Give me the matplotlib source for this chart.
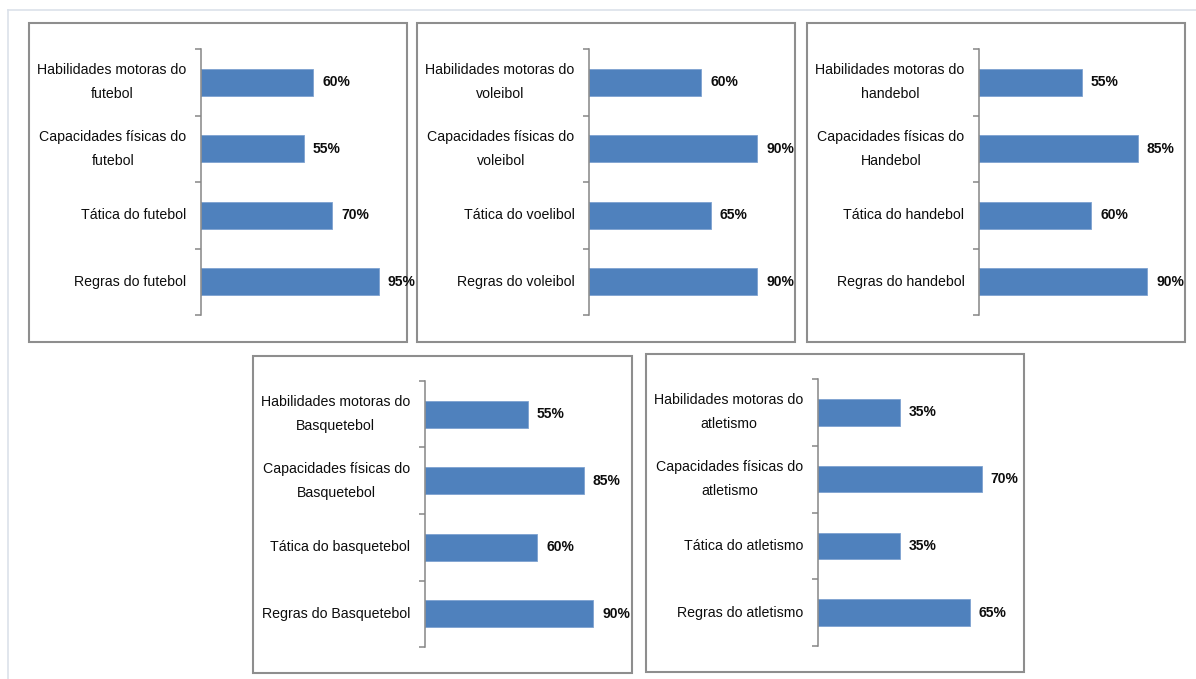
import matplotlib
matplotlib.use("Agg")
import matplotlib.pyplot as plt
from matplotlib.patches import Rectangle
from matplotlib.lines import Line2D

W, H = 1196, 679
FONT = ['Liberation Sans', 'DejaVu Sans']
BAR = '#4f81bd'

# categories per sport (top to bottom)
labels_futebol = ["Habilidades motoras do\nfutebol", "Capacidades físicas do\nfutebol",
                  "Tática do futebol", "Regras do futebol"]
values_futebol = [60, 55, 70, 95]

labels_voleibol = ["Habilidades motoras do\nvoleibol", "Capacidades físicas do\nvoleibol",
                   "Tática do voelibol", "Regras do voleibol"]
values_voleibol = [60, 90, 65, 90]

labels_handebol = ["Habilidades motoras do\nhandebol", "Capacidades físicas do\nHandebol",
                   "Tática do handebol", "Regras do handebol"]
values_handebol = [55, 85, 60, 90]

labels_basquete = ["Habilidades motoras do\nBasquetebol", "Capacidades físicas do\nBasquetebol",
                   "Tática do basquetebol", "Regras do Basquetebol"]
values_basquete = [55, 85, 60, 90]

labels_atletismo = ["Habilidades motoras do\natletismo", "Capacidades físicas do\natletismo",
                    "Tática do atletismo", "Regras do atletismo"]
values_atletismo = [35, 70, 35, 65]

xmax_default = 100
xmax_atletismo = 80


def fx(x):
    return x / W


def fy(y):
    return 1 - y / H


def panel(fig, box, axis, labels, values, xmax):
    # outer chart frame
    x0, y0, x1, y1 = box
    fig.add_artist(Rectangle((fx(x0), fy(y1)), fx(x1 - x0), (y1 - y0) / H,
                             transform=fig.transFigure, facecolor='white',
                             edgecolor='#8e8e8e', linewidth=1.5, zorder=0))
    left, top, bottom = axis
    ax = fig.add_axes([fx(left), fy(bottom), fx(187), (bottom - top) / H])
    ax.set_zorder(1)
    ax.patch.set_alpha(0)
    n = len(values)
    pos = list(range(n))
    ax.barh(pos, values, height=0.4, color=BAR, edgecolor='#7ea2d0', linewidth=0.6)
    ax.set_xlim(0, xmax)
    ax.set_ylim(n - 0.5, -0.5)
    for s in ['top', 'right', 'bottom']:
        ax.spines[s].set_visible(False)
    ax.spines['left'].set_color('#868686')
    ax.spines['left'].set_linewidth(1.1)
    ax.set_xticks([])
    # tick marks sit on the category boundaries, labels in between
    ax.set_yticks([i - 0.5 for i in range(n + 1)])
    ax.set_yticklabels([])
    ax.tick_params(axis='y', which='major', length=4, width=1.1, color='#868686')
    ax.set_yticks(pos, minor=True)
    ax.set_yticklabels(labels, minor=True)
    ax.tick_params(axis='y', which='minor', length=0, pad=10.5)
    for t in ax.get_yticklabels(minor=True):
        t.set_family(FONT)
        t.set_fontsize(10.2)
        t.set_multialignment('center')
        t.set_verticalalignment('center')
        t.set_linespacing(1.9)
        t.set_color('#0d0d0d')
    for p, v in zip(pos, values):
        ax.annotate(f"{v}%", (v, p), xytext=(6.5, 0), textcoords='offset points',
                    va='center', ha='left', fontsize=10, fontweight='bold',
                    family=FONT, color='#0d0d0d', annotation_clip=False)
    return ax


fig = plt.figure(figsize=(W / 100, H / 100), dpi=100)
fig.patch.set_facecolor('white')

# faint page border
fig.add_artist(Line2D([fx(7.5), 1], [fy(10), fy(10)], transform=fig.transFigure,
                      color='#dbe1ea', linewidth=1.2))
fig.add_artist(Line2D([fx(7.5), fx(7.5)], [fy(10), 0], transform=fig.transFigure,
                      color='#dbe1ea', linewidth=1.2))

panel(fig, (29, 23, 407, 342), (201, 49, 315), labels_futebol, values_futebol, xmax_default)
panel(fig, (417, 23, 795, 342), (589, 49, 315), labels_voleibol, values_voleibol, xmax_default)
panel(fig, (807, 23, 1185, 342), (979, 49, 315), labels_handebol, values_handebol, xmax_default)
panel(fig, (253, 356, 632, 673), (425, 381, 647), labels_basquete, values_basquete, xmax_default)
panel(fig, (646, 354, 1024, 672), (818, 379, 646), labels_atletismo, values_atletismo, xmax_atletismo)

fig.savefig("out.png", dpi=100, facecolor='white')
